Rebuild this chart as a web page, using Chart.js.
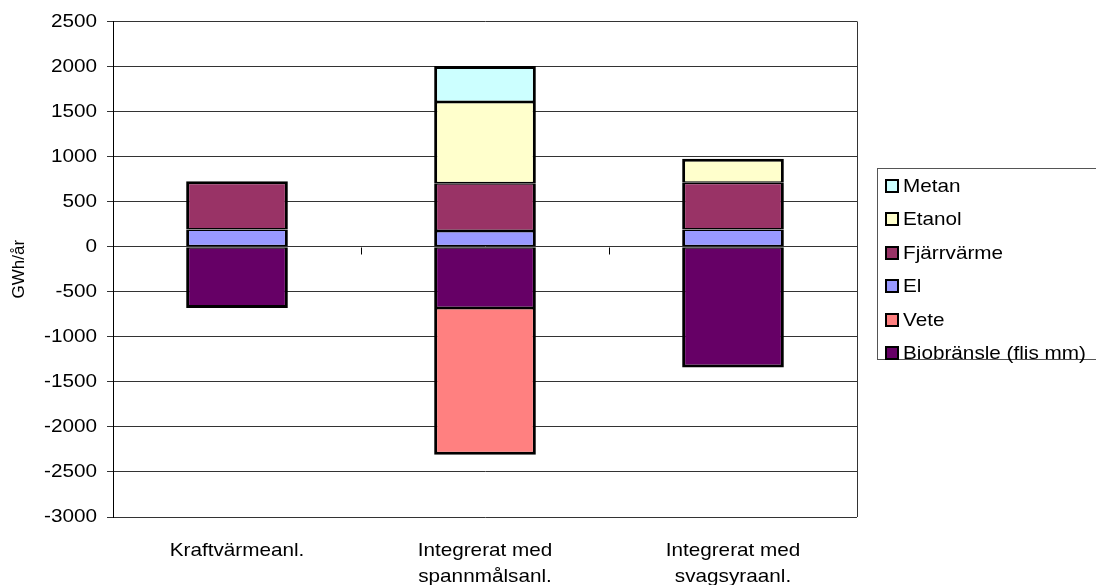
<!DOCTYPE html>
<html>
<head>
<meta charset="utf-8">
<title>Energibalans</title>
<script src="https://cdn.jsdelivr.net/npm/chart.js@4/dist/chart.umd.min.js"></script>
<style>
  html, body { margin: 0; padding: 0; background: #fff; }
  #wrap { width: 1096px; height: 585px; position: relative; }
</style>
</head>
<body>
<div id="wrap"><canvas id="c" width="1096" height="585"></canvas></div>
<script>
// Categories and series (GWh/år)
const categories = ['Kraftvärmeanl.', ['Integrerat med', 'spannmålsanl.'], ['Integrerat med', 'svagsyraanl.']];
const biobransle = [-680, -680, -1340];
const vete       = [null, -1630, null];
const el         = [190, 175, 190];
const fjarrvarme = [535, 530, 520];
const etanol     = [null, 900, 265];
const metan      = [null, 400, null];
const yTicks     = { min: -3000, max: 2500, step: 500 };

const FONT = '"Liberation Sans", Arial, sans-serif';
const TEXT_WIDEN = 1.09;

// Widen horizontal text slightly (rotated text is left as is)
const widenText = {
  id: 'widenText',
  beforeDraw(chart) {
    const ctx = chart.ctx;
    if (ctx.__widened) return;
    const orig = ctx.fillText.bind(ctx);
    ctx.fillText = function (t, x, y, maxW) {
      const m = ctx.getTransform();
      if (Math.abs(m.b) > 1e-6 || Math.abs(m.c) > 1e-6) { orig(t, x, y); return; }
      ctx.save();
      ctx.translate(x, y);
      ctx.scale(TEXT_WIDEN, 1);
      orig(t, 0, 0);
      ctx.restore();
    };
    ctx.__widened = true;
  }
};

// Right frame edge and small tick marks on the zero line between categories
const plotFrame = {
  id: 'plotFrame',
  afterDatasetsDraw(chart) {
    const { ctx, chartArea: a, scales } = chart;
    const x = scales.x, y = scales.y;
    ctx.save();
    ctx.strokeStyle = '#333';
    ctx.lineWidth = 1;
    ctx.beginPath();
    ctx.moveTo(Math.round(a.right) + 0.5, a.top);
    ctx.lineTo(Math.round(a.right) + 0.5, a.bottom);
    ctx.stroke();
    const zy = Math.round(y.getPixelForValue(0)) + 0.5;
    ctx.strokeStyle = '#000';
    ctx.beginPath();
    for (let i = 0; i < categories.length - 1; i++) {
      const bx = Math.round((x.getPixelForValue(i) + x.getPixelForValue(i + 1)) / 2) + 0.5;
      ctx.moveTo(bx, zy);
      ctx.lineTo(bx, zy + 7);
    }
    ctx.stroke();
    ctx.restore();
  }
};

// Framed legend listing the series top-down in stack order
const boxLegend = {
  id: 'boxLegend',
  afterDraw(chart, args, o) {
    const ctx = chart.ctx;
    ctx.save();
    ctx.strokeStyle = '#555';
    ctx.lineWidth = 1;
    ctx.strokeRect(o.x + 0.5, o.y + 0.5, o.w, o.h);
    const sets = chart.data.datasets.slice().reverse();
    ctx.font = '19px ' + FONT;
    ctx.textBaseline = 'middle';
    ctx.textAlign = 'left';
    sets.forEach((ds, k) => {
      const cy = Math.round(o.firstY + k * o.step);
      ctx.fillStyle = ds.backgroundColor;
      ctx.fillRect(o.markX, cy - 6, 12, 12);
      ctx.strokeStyle = '#000';
      ctx.lineWidth = 2;
      ctx.strokeRect(o.markX, cy - 6, 12, 12);
      ctx.fillStyle = '#000';
      ctx.fillText(ds.label, o.textX, cy + 1);
    });
    ctx.restore();
  }
};

// Full outline on the outer edges of each stack, half width on shared edges
function segmentBorder(c) {
  const i = c.dataIndex, d = c.datasetIndex;
  const sets = c.chart.data.datasets;
  const v = sets[d].data[i];
  const outer = 3, inner = 1.5;
  let isEnd = true;
  for (let k = d + 1; k < sets.length; k++) {
    const w = sets[k].data[i];
    if (w != null && (w < 0) === (v < 0)) isEnd = false;
  }
  if (v >= 0) return { left: outer, right: outer, top: isEnd ? outer : inner, bottom: inner };
  return { left: outer, right: outer, top: inner, bottom: isEnd ? outer : inner };
}

function series(label, data, color) {
  return {
    label, data,
    backgroundColor: color,
    borderColor: '#000',
    borderWidth: segmentBorder,
    borderSkipped: false,
    barPercentage: 0.41,
    categoryPercentage: 1.0
  };
}

new Chart(document.getElementById('c'), {
  type: 'bar',
  data: {
    labels: categories,
    datasets: [
      series('Biobränsle (flis mm)', biobransle, '#660066'),
      series('Vete', vete, '#FF8080'),
      series('El', el, '#9999FF'),
      series('Fjärrvärme', fjarrvarme, '#993366'),
      series('Etanol', etanol, '#FFFFCC'),
      series('Metan', metan, '#CCFFFF')
    ]
  },
  plugins: [widenText, plotFrame, boxLegend],
  options: {
    responsive: false,
    animation: false,
    devicePixelRatio: 1,
    layout: { padding: { left: 0, top: 21, right: 239, bottom: 0 } },
    plugins: {
      legend: { display: false },
      tooltip: { enabled: false },
      boxLegend: { x: 877, y: 168, w: 240, h: 191, markX: 886, textX: 903, firstY: 186, step: 33.4 }
    },
    scales: {
      x: {
        stacked: true,
        grid: { display: false },
        border: { display: false },
        ticks: {
          color: '#000',
          font: { family: FONT, size: 19, lineHeight: 1.36 },
          padding: 13,
          maxRotation: 0,
          autoSkip: false
        },
        afterFit(s) { s.height = 68; }
      },
      y: {
        stacked: true,
        min: yTicks.min,
        max: yTicks.max,
        ticks: {
          stepSize: yTicks.step,
          color: '#000',
          font: { family: FONT, size: 19 },
          padding: 10,
          callback: (v) => String(v)
        },
        grid: { color: '#333', lineWidth: 1, tickLength: 6, drawTicks: true },
        border: { display: true, color: '#000', width: 1 },
        title: {
          display: true,
          text: 'GWh/år',
          color: '#000',
          font: { family: FONT, size: 17 },
          padding: { top: 9, bottom: 0 }
        },
        afterFit(s) { s.width = 113; }
      }
    }
  }
});
</script>
</body>
</html>
